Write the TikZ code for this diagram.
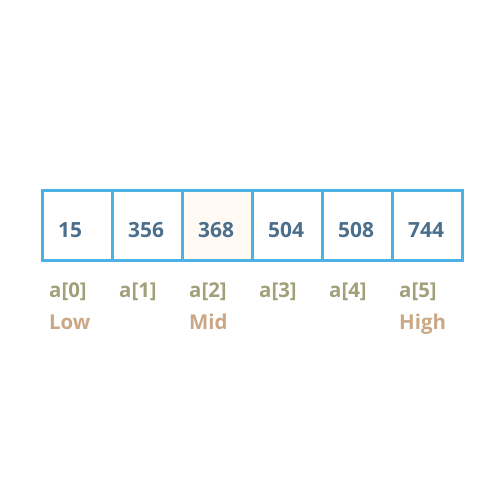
\documentclass[tikz,border=0pt]{standalone}
\usepackage{fontspec}
\setmainfont{Open Sans}
\definecolor{cellborder}{RGB}{76,178,230}
\definecolor{valtext}{RGB}{74,110,140}
\definecolor{idxtext}{RGB}{162,160,122}
\definecolor{ptrtext}{RGB}{202,168,134}
\definecolor{midfill}{RGB}{255,250,244}
\begin{document}
\begin{tikzpicture}[x=1bp,y=-1bp,
  cellbox/.style={draw=cellborder,line width=3bp,minimum width=70bp,minimum height=70bp,inner sep=0pt,outer sep=0pt,anchor=north west},
  valtxt/.style={anchor=base west,inner sep=0pt,text=valtext,font=\fontsize{21}{22}\selectfont\bfseries},
  idxtxt/.style={anchor=base west,inner sep=0pt,text=idxtext,font=\fontsize{20.5}{22}\selectfont\bfseries},
  ptrtxt/.style={anchor=base west,inner sep=0pt,text=ptrtext,font=\fontsize{20.5}{22}\selectfont\bfseries}]
\useasboundingbox (0,0) rectangle (500,500);
\node[cellbox] (c0) at (42,190) {};
\node[cellbox] (c1) at (112,190) {};
\node[cellbox,fill=midfill] (c2) at (182,190) {};
\node[cellbox] (c3) at (252,190) {};
\node[cellbox] (c4) at (322,190) {};
\node[cellbox] (c5) at (392,190) {};
\node[valtxt] (v0) at (58,237.5) {15};
\node[valtxt] (v1) at (128,237.5) {356};
\node[valtxt] (v2) at (198,237.5) {368};
\node[valtxt] (v3) at (268,237.5) {504};
\node[valtxt] (v4) at (338,237.5) {508};
\node[valtxt] (v5) at (408,237.5) {744};
\node[idxtxt] (i0) at (49,297) {a[0]};
\node[idxtxt] (i1) at (119,297) {a[1]};
\node[idxtxt] (i2) at (189,297) {a[2]};
\node[idxtxt] (i3) at (259,297) {a[3]};
\node[idxtxt] (i4) at (329,297) {a[4]};
\node[idxtxt] (i5) at (399,297) {a[5]};
\node[ptrtxt] (pl) at (49,329) {Low};
\node[ptrtxt] (pm) at (189,329) {Mid};
\node[ptrtxt] (ph) at (399,329) {High};
\end{tikzpicture}
\end{document}
